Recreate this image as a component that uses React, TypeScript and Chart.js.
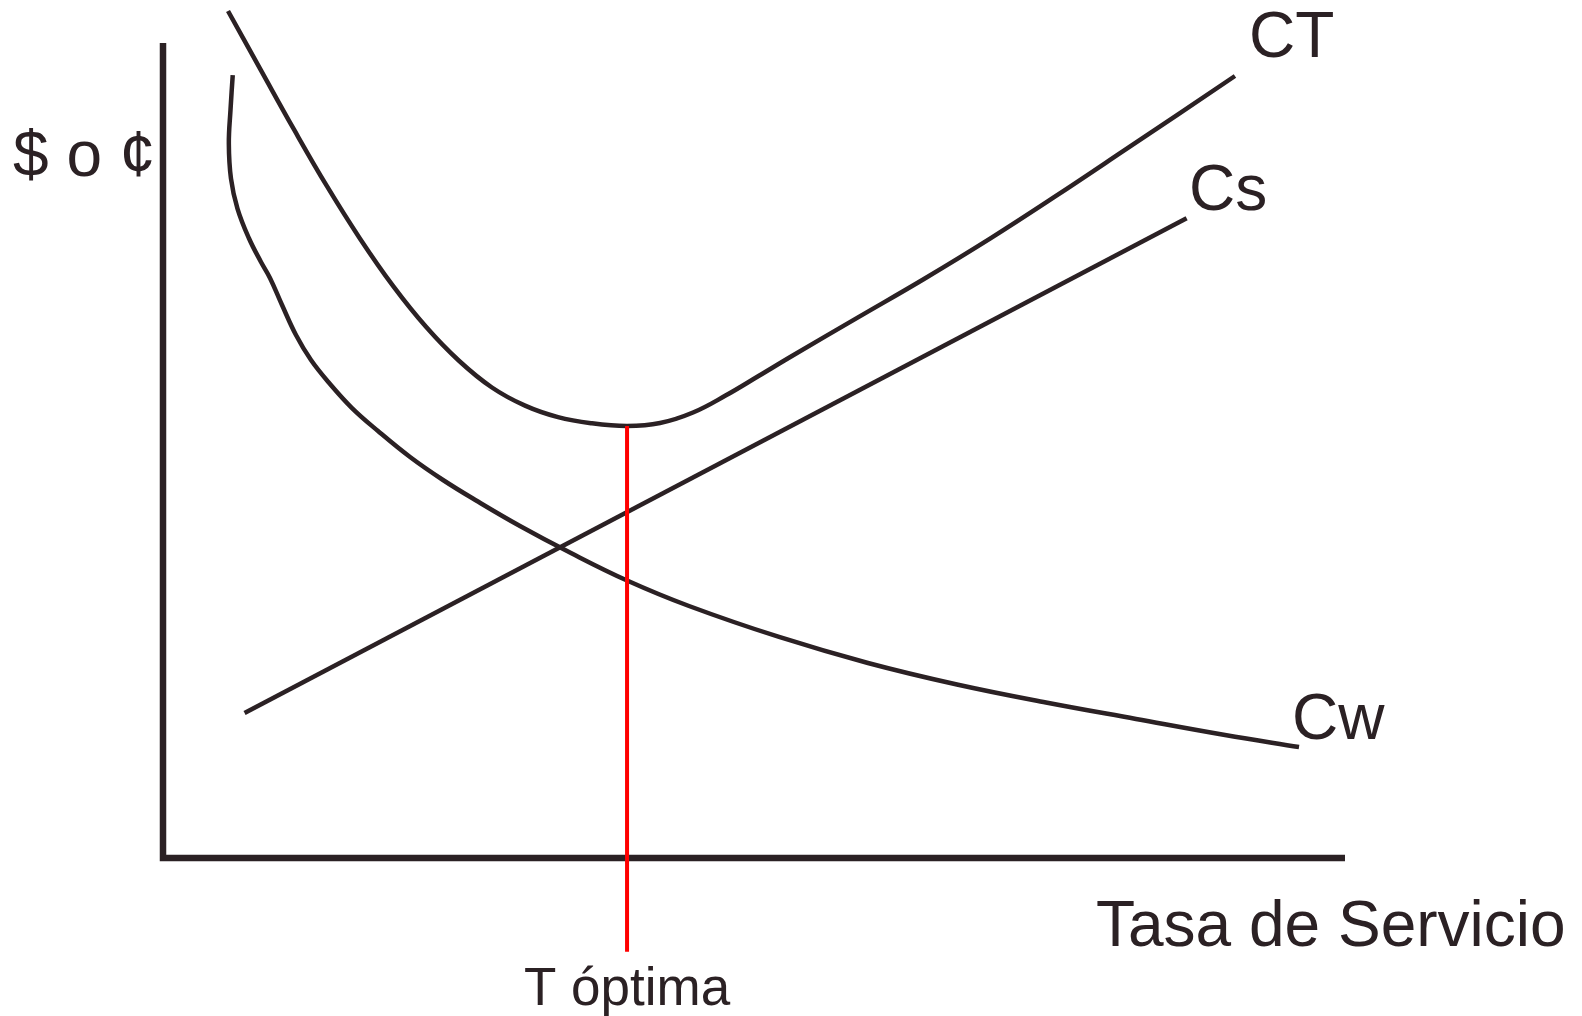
import React, { useEffect, useRef } from "react";
import { Chart, registerables } from "chart.js";

Chart.register(...registerables);

// Axis box: service rate on x (0..10), cost on y (0..10)
const X_RANGE = [0, 10];
const Y_RANGE = [0, 10];

// Total cost curve CT
const ctX = [0.55, 0.829, 1.108, 1.387, 1.667, 1.946, 2.225, 2.504, 2.783, 3.063, 3.342, 3.621, 3.926, 4.205, 4.484, 4.763, 5.042, 5.321, 5.88, 6.438, 6.997, 7.555, 8.113, 9.069];
const ctY = [10.393, 9.664, 8.939, 8.243, 7.599, 7.02, 6.518, 6.101, 5.773, 5.55, 5.409, 5.335, 5.301, 5.337, 5.466, 5.677, 5.917, 6.16, 6.633, 7.104, 7.599, 8.123, 8.663, 9.595];

// Waiting cost curve Cw
const cwX = [0.59, 0.571, 0.557, 0.575, 0.63, 0.728, 0.829, 0.905, 1.007, 1.125, 1.252, 1.413, 1.599, 1.819, 2.09, 2.369, 2.657, 3.02, 3.443, 3.926, 4.45, 5.212, 5.964, 6.717, 7.47, 8.232, 8.985, 9.611];
const cwY = [9.607, 9.178, 8.767, 8.337, 7.969, 7.601, 7.313, 7.117, 6.785, 6.417, 6.11, 5.816, 5.521, 5.239, 4.92, 4.638, 4.38, 4.074, 3.748, 3.405, 3.092, 2.712, 2.393, 2.129, 1.908, 1.706, 1.509, 1.362];

// Service cost line Cs
const csX = [0.69, 8.66];
const csY = [1.78, 7.85];

// Optimal rate marker
const optimalX = 3.926;
const optimalY = [5.301, -1.15];

// Texts
const yAxisLabel = "$ o ¢";
const xAxisLabel = "Tasa de Servicio";
const optimalLabel = "T óptima";
const seriesLabels = ["CT", "Cs", "Cw"];

const INK = "#2b2124";
const RED = "#ff0000";
const FONT = "'Liberation Sans', Arial, Helvetica, sans-serif";

const pts = (xs: number[], ys: number[]) => xs.map((x, i) => ({ x, y: ys[i] }));

const textPlugin = {
  id: "textPlugin",
  afterDatasetsDraw(chart: any) {
    const ctx = chart.ctx as CanvasRenderingContext2D;
    ctx.save();
    ctx.fillStyle = INK;
    ctx.textBaseline = "alphabetic";
    ctx.font = `64px ${FONT}`;
    ctx.textAlign = "left";
    ctx.fillText(yAxisLabel, 13, 176);
    ctx.fillText(seriesLabels[0], 1249, 57);
    ctx.fillText(seriesLabels[1], 1189, 210);
    ctx.fillText(seriesLabels[2], 1292, 739);
    ctx.fillText(xAxisLabel, 1096, 946);
    ctx.font = `53px ${FONT}`;
    ctx.textAlign = "center";
    const xs = chart.scales.x;
    ctx.fillText(optimalLabel, xs.getPixelForValue(optimalX), 1005);
    ctx.restore();
  },
};

export default function App() {
  const ref = useRef<HTMLCanvasElement | null>(null);

  useEffect(() => {
    document.body.style.margin = "0";
    const canvas = ref.current;
    if (!canvas) return;
    const common = {
      pointRadius: 0,
      pointHoverRadius: 0,
      fill: false,
      clip: false as any,
      borderCapStyle: "butt" as const,
    };
    const chart = new Chart(canvas, {
      type: "line",
      data: {
        datasets: [
          {
            ...common,
            label: "T óptima",
            data: optimalY.map((y) => ({ x: optimalX, y })),
            borderColor: RED,
            borderWidth: 4,
            tension: 0,
            order: 0,
          },
          {
            ...common,
            label: "CT",
            data: pts(ctX, ctY),
            borderColor: INK,
            borderWidth: 4.5,
            tension: 0.4,
            order: 1,
          },
          {
            ...common,
            label: "Cw",
            data: pts(cwX, cwY),
            borderColor: INK,
            borderWidth: 4.5,
            tension: 0.4,
            order: 2,
          },
          {
            ...common,
            label: "Cs",
            data: pts(csX, csY),
            borderColor: INK,
            borderWidth: 4.5,
            tension: 0,
            order: 3,
          },
          {
            ...common,
            label: "axes",
            data: [
              { x: X_RANGE[0], y: Y_RANGE[1] },
              { x: X_RANGE[0], y: Y_RANGE[0] },
              { x: X_RANGE[1], y: Y_RANGE[0] },
            ],
            borderColor: INK,
            borderWidth: 6.5,
            borderJoinStyle: "miter" as const,
            tension: 0,
            order: 4,
          },
        ],
      },
      options: {
        animation: false,
        responsive: false,
        devicePixelRatio: 1,
        events: [],
        elements: { line: { capBezierPoints: false } },
        layout: { padding: { left: 163, right: 237, top: 43, bottom: 158 } },
        scales: {
          x: { type: "linear", min: X_RANGE[0], max: X_RANGE[1], display: false },
          y: { type: "linear", min: Y_RANGE[0], max: Y_RANGE[1], display: false },
        },
        plugins: {
          legend: { display: false },
          tooltip: { enabled: false },
        },
      },
      plugins: [textPlugin],
    });
    return () => chart.destroy();
  }, []);

  return (
    <div style={{ position: "absolute", left: 0, top: 0, width: 1582, height: 1016, background: "#ffffff" }}>
      <canvas ref={ref} width={1582} height={1016} style={{ display: "block", width: 1582, height: 1016 }} />
    </div>
  );
}
